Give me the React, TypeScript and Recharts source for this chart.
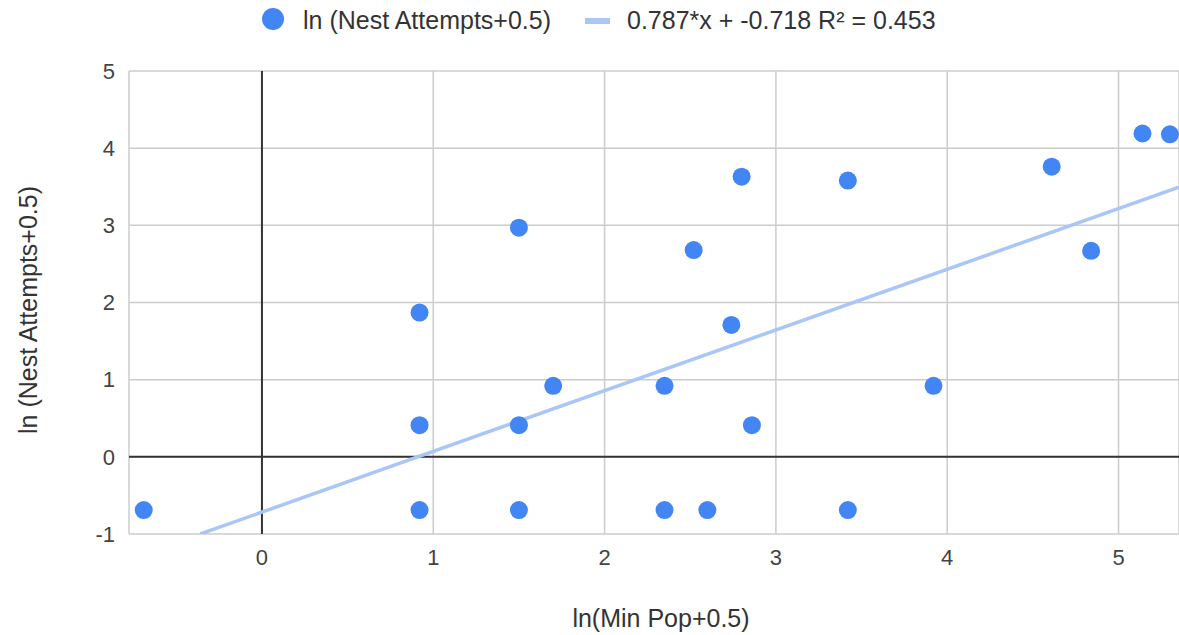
import React from 'react';
import { ScatterChart, Scatter, XAxis, YAxis, CartesianGrid, ReferenceLine, Label } from 'recharts';

const FONT = '"Liberation Sans", Arial, sans-serif';

// ln(Min Pop + 0.5)
const minPopLn = [-0.69, 0.92, 0.92, 0.92, 1.5, 1.5, 1.5, 1.7, 2.35, 2.35, 2.52, 2.6, 2.74, 2.8, 2.86, 3.42, 3.42, 3.92, 4.61, 4.84, 5.14, 5.3];
// ln(Nest Attempts + 0.5)
const nestLn = [-0.69, 1.87, 0.41, -0.69, 2.97, 0.41, -0.69, 0.92, 0.92, -0.69, 2.68, -0.69, 1.71, 3.63, 0.41, 3.58, -0.69, 0.92, 3.76, 2.67, 4.19, 4.18];

const xTicks = [0, 1, 2, 3, 4, 5];
const yTicks = [-1, 0, 1, 2, 3, 4, 5];

// trendline end points (0.787*x - 0.718) within the plot
const trendX = [-0.36, 5.353];
const trendY = [-1.0, 3.495];

const seriesLabel = 'ln (Nest Attempts+0.5)';
const trendLabel = '0.787*x + -0.718 R\u00B2 = 0.453';
const xTitle = 'ln(Min Pop+0.5)';
const yTitle = 'ln (Nest Attempts+0.5)';

const POINT_COLOR = '#4285f4';
const TREND_COLOR = '#a9c6f6';

export default function App() {
  const points = minPopLn.map((x, i) => ({ x, y: nestLn[i] }));
  const trend = trendX.map((x, i) => ({ x, y: trendY[i] }));

  return (
    <div
      style={{
        position: 'absolute',
        left: 0,
        top: 0,
        width: 1179,
        height: 635,
        overflow: 'hidden',
        background: '#ffffff',
        fontFamily: FONT,
      }}
    >
      <ScatterChart width={1179} height={635} margin={{ top: 71, right: 0, bottom: 0, left: 0 }}>
        <CartesianGrid stroke="#cccccc" strokeWidth={1.5} />
        <XAxis
          type="number"
          dataKey="x"
          domain={[-0.776, 5.353]}
          ticks={xTicks}
          allowDataOverflow
          axisLine={false}
          tickLine={false}
          tickSize={0}
          tickMargin={15}
          height={101}
          tick={{ fill: '#444444', fontSize: 22, fontFamily: FONT }}
        >
          <Label
            content={() => (
              <text x={661} y={627} textAnchor="middle" fill="#333333" fontSize={25} fontFamily={FONT}>
                {xTitle}
              </text>
            )}
          />
        </XAxis>
        <YAxis
          type="number"
          dataKey="y"
          domain={[-1, 5]}
          ticks={yTicks}
          allowDataOverflow
          axisLine={false}
          tickLine={false}
          tickSize={0}
          tickMargin={14}
          width={129}
          tick={{ fill: '#444444', fontSize: 22, fontFamily: FONT }}
        >
          <Label
            content={() => (
              <text
                x={37}
                y={310}
                transform="rotate(-90 37 310)"
                textAnchor="middle"
                fill="#333333"
                fontSize={25}
                fontFamily={FONT}
              >
                {yTitle}
              </text>
            )}
          />
        </YAxis>
        <ReferenceLine x={0} stroke="#333333" strokeWidth={2} />
        <ReferenceLine y={0} stroke="#333333" strokeWidth={2} />
        <Scatter
          data={trend}
          line={{ stroke: TREND_COLOR, strokeWidth: 3.5 }}
          shape={() => <g />}
          isAnimationActive={false}
        />
        <Scatter
          data={points}
          shape={(p: any) => <circle cx={p.cx} cy={p.cy} r={9} fill={POINT_COLOR} />}
          isAnimationActive={false}
        />
      </ScatterChart>

      <div style={{ position: 'absolute', left: 262, top: 8, width: 22, height: 22, borderRadius: 11, background: POINT_COLOR }} />
      <div style={{ position: 'absolute', left: 303, top: 0, height: 40, lineHeight: '40px', fontSize: 25, color: '#333333', whiteSpace: 'nowrap' }}>
        {seriesLabel}
      </div>
      <div style={{ position: 'absolute', left: 585, top: 18, width: 25, height: 6, background: TREND_COLOR }} />
      <div style={{ position: 'absolute', left: 627, top: 0, height: 40, lineHeight: '40px', fontSize: 25, color: '#333333', whiteSpace: 'nowrap' }}>
        {trendLabel}
      </div>
    </div>
  );
}
